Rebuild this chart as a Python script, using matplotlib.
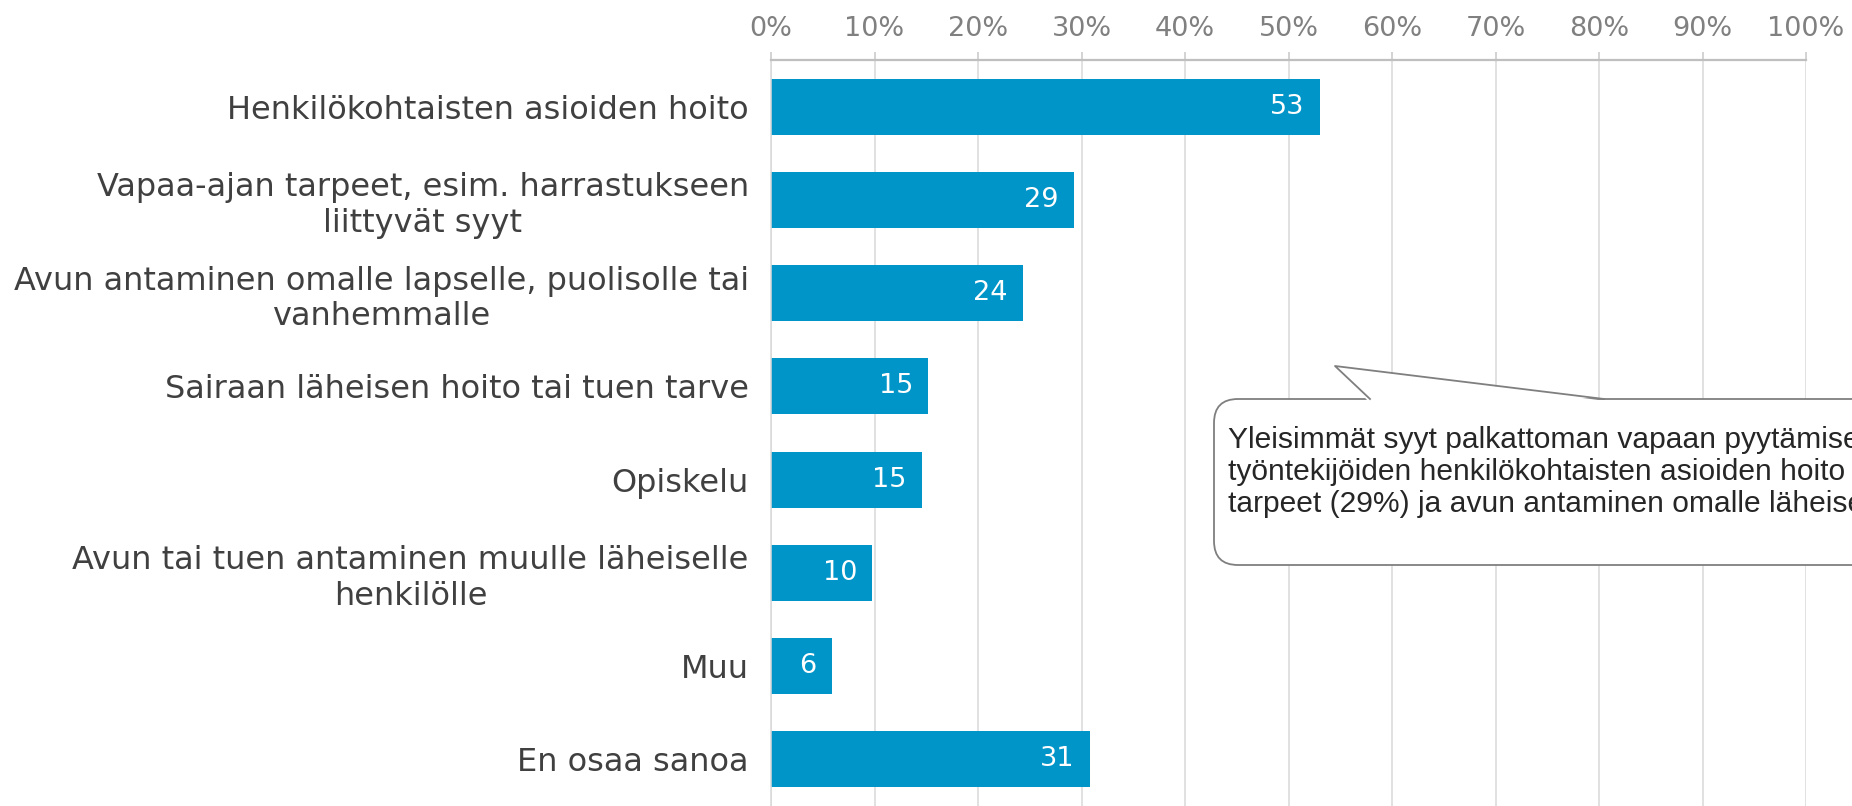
import numpy as np
import matplotlib.pyplot as plt
from matplotlib.patches import FancyBboxPatch, Polygon
from matplotlib.lines import Line2D
from matplotlib.transforms import IdentityTransform

categories = [
    'Henkilökohtaisten asioiden hoito',
    'Vapaa-ajan tarpeet, esim. harrastukseen\nliittyvät syyt',
    'Avun antaminen omalle lapselle, puolisolle tai\nvanhemmalle',
    'Sairaan läheisen hoito tai tuen tarve',
    'Opiskelu',
    'Avun tai tuen antaminen muulle läheiselle\nhenkilölle',
    'Muu',
    'En osaa sanoa',
]
values = [53.0, 29.3, 24.3, 15.2, 14.6, 9.8, 5.9, 30.8]
value_labels = ['53', '29', '24', '15', '15', '10', '6', '31']
xticks = list(range(0, 101, 10))
xtick_labels = [f'{t}%' for t in xticks]
note = ("Yleisimmät syyt palkattoman vapaan pyytämiseen ovat\n"
        "työntekijöiden henkilökohtaisten asioiden hoito (53%), vapaa-ajan\n"
        "tarpeet (29%) ja avun antaminen omalle läheiselle (24%).")

W, H = 1852, 806
fig = plt.figure(figsize=(W / 100, H / 100), dpi=100)
ax = fig.add_axes([771 / W, 0, (1806 - 771) / W, (H - 60) / H])

y = np.arange(len(categories))
ax.barh(y, values, height=0.6, color='#0095c8', zorder=2)
ax.set_ylim(len(categories) - 0.5, -0.5)
ax.set_xlim(0, 100)

# value labels inside bar ends
for yi, v, lab in zip(y, values, value_labels):
    ax.annotate(lab, (v, yi), xytext=(-11, 0), textcoords='offset points',
                ha='right', va='center', color='white', fontsize=19.5, zorder=3)

ax.set_yticks(y)
ax.set_yticklabels(categories, fontsize=23, color='#404040')
for lbl in ax.get_yticklabels():
    lbl.set_multialignment('center')
ax.tick_params(axis='y', length=0, pad=16)

ax.xaxis.tick_top()
ax.set_xticks(xticks)
ax.set_xticklabels(xtick_labels, fontsize=19.5, color='#808080')
ax.tick_params(axis='x', length=6, width=1.1, color='#c8c8c8', pad=7)

ax.grid(axis='x', color='#d9d9d9', lw=1.1, zorder=0)
ax.set_axisbelow(True)
for s in ['right', 'bottom']:
    ax.spines[s].set_visible(False)
ax.spines['top'].set_color('#bfbfbf')
ax.spines['top'].set_linewidth(1.6)
ax.spines['left'].set_color('#d9d9d9')
ax.spines['left'].set_linewidth(1.1)

# callout box (runs off the right edge, as in the original)
ident = IdentityTransform()
box = FancyBboxPatch((1214, H - 565), 900, 166,
                     boxstyle='round,pad=0,rounding_size=24',
                     transform=ident, fc='white', ec='#7f7f7f', lw=1.3, zorder=5)
fig.add_artist(box)
ptr = Polygon([(1368, H - 401), (1335, H - 366), (1606, H - 401)], closed=True,
              transform=ident, fc='white', ec='none', zorder=6)
fig.add_artist(ptr)
fig.add_artist(Line2D([1370, 1335, 1604], [H - 399, H - 366, H - 399],
                      transform=ident, color='#7f7f7f', lw=1.3, zorder=7))
fig.text(1228, H - 472, note, transform=ident, fontsize=21.6,
         family='Liberation Sans', color='#262626', va='center', ha='left',
         linespacing=1.2, zorder=8)

fig.savefig('out.png', dpi=100)
